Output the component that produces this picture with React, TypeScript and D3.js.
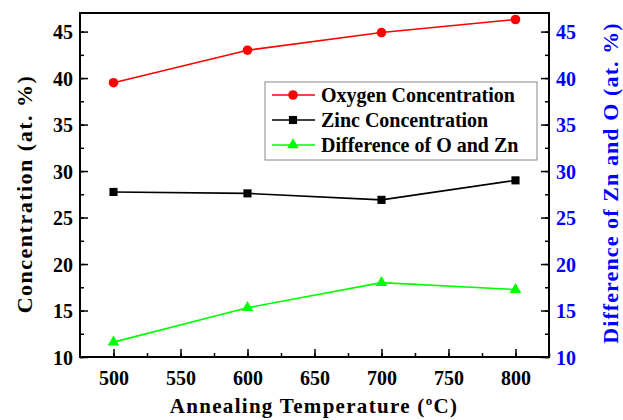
import React, { useEffect, useRef } from 'react';
import * as d3 from 'd3';

const temperatures = [500, 600, 700, 800];
const oxygen = [39.5, 43.0, 44.9, 46.3];
const zinc = [27.75, 27.6, 26.9, 29.0];
const difference = [11.6, 15.3, 18.0, 17.25];

const xTicks = [500, 550, 600, 650, 700, 750, 800];
const yTicks = [10, 15, 20, 25, 30, 35, 40, 45];

const legendLabels = ['Oxygen Concentration', 'Zinc Concentration', 'Difference of O and Zn'];

const W = 623;
const H = 420;
const FONT = "'Liberation Serif', 'DejaVu Serif', serif";

export default function App() {
  const svgRef = useRef<SVGSVGElement>(null);

  useEffect(() => {
    if (!svgRef.current) return;
    const svg = d3.select(svgRef.current);
    svg.selectAll('*').remove();

    const m = { left: 80, right: 549, top: 13, bottom: 357 };
    const x = d3.scaleLinear().domain([475, 825]).range([m.left, m.right]);
    const y = d3.scaleLinear().domain([10, 47]).range([m.bottom, m.top]);
    const yR = d3.scaleLinear().domain([10, 47]).range([m.bottom, m.top]);

    const minorX = d3.range(500, 826, 25);
    const minorY = d3.range(10, 47, 2.5);

    // minor ticks
    const g = svg.append('g');
    g.append('g')
      .attr('transform', `translate(0,${m.bottom})`)
      .call(d3.axisBottom(x).tickValues(minorX).tickSize(-4).tickFormat(() => ''))
      .call(s => s.select('.domain').remove());
    g.append('g')
      .attr('transform', `translate(${m.left},0)`)
      .call(d3.axisLeft(y).tickValues(minorY).tickSize(-4).tickFormat(() => ''))
      .call(s => s.select('.domain').remove());
    g.append('g')
      .attr('transform', `translate(${m.right},0)`)
      .call(d3.axisRight(yR).tickValues(minorY).tickSize(-4).tickFormat(() => ''))
      .call(s => s.select('.domain').remove());
    g.selectAll('line').attr('stroke', '#000').attr('stroke-width', 1.5);

    // major axes
    const xAxis = svg.append('g')
      .attr('transform', `translate(0,${m.bottom})`)
      .call(d3.axisBottom(x).tickValues(xTicks).tickSize(-8).tickPadding(14).tickFormat(d3.format('d')));
    const yAxis = svg.append('g')
      .attr('transform', `translate(${m.left},0)`)
      .call(d3.axisLeft(y).tickValues(yTicks).tickSize(-8).tickPadding(7).tickFormat(d3.format('d')));
    const yAxisR = svg.append('g')
      .attr('transform', `translate(${m.right},0)`)
      .call(d3.axisRight(yR).tickValues(yTicks).tickSize(-8).tickPadding(7).tickFormat(d3.format('d')));

    [xAxis, yAxis, yAxisR].forEach(a => {
      a.attr('font-family', null).attr('font-size', null);
      a.select('.domain').remove();
      a.selectAll('line').attr('stroke', '#000').attr('stroke-width', 1.5);
      a.selectAll('text')
        .style('font-family', FONT)
        .style('font-weight', 'bold')
        .style('font-size', '20px')
        .attr('fill', '#000');
    });
    yAxis.selectAll('text').attr('dy', '0.35em');
    yAxisR.selectAll('text').attr('fill', '#0000ff').attr('dy', '0.35em');

    // frame
    svg.append('rect')
      .attr('x', m.left).attr('y', m.top)
      .attr('width', m.right - m.left).attr('height', m.bottom - m.top)
      .attr('fill', 'none').attr('stroke', '#000').attr('stroke-width', 2);

    const series = [
      { values: oxygen, color: '#ff0000', scale: y, shape: 'circle' },
      { values: zinc, color: '#000000', scale: y, shape: 'square' },
      { values: difference, color: '#00ff00', scale: yR, shape: 'triangle' },
    ];

    const symbolOf = (shape: string) => {
      if (shape === 'circle') return d3.symbol().type(d3.symbolCircle).size(72);
      if (shape === 'square') return d3.symbol().type(d3.symbolSquare).size(66);
      return d3.symbol().type(d3.symbolTriangle).size(58);
    };

    series.forEach(s => {
      const line = d3.line<number>()
        .x((_, i) => x(temperatures[i]))
        .y(d => s.scale(d));
      svg.append('path')
        .datum(s.values)
        .attr('d', line)
        .attr('fill', 'none')
        .attr('stroke', s.color)
        .attr('stroke-width', 1.6);
      svg.selectAll(null)
        .data(s.values)
        .enter()
        .append('path')
        .attr('d', symbolOf(s.shape))
        .attr('transform', (d, i) => `translate(${x(temperatures[i])},${s.scale(d)})`)
        .attr('fill', s.color);
    });

    // legend
    const lg = svg.append('g');
    lg.append('rect')
      .attr('x', 265).attr('y', 82).attr('width', 272).attr('height', 78)
      .attr('fill', '#fff').attr('stroke', '#888').attr('stroke-width', 1);
    legendLabels.forEach((label, i) => {
      const s = series[i];
      const cy = 95 + i * 25;
      lg.append('line')
        .attr('x1', 272).attr('x2', 315).attr('y1', cy).attr('y2', cy)
        .attr('stroke', s.color).attr('stroke-width', 1.6);
      lg.append('path')
        .attr('d', symbolOf(s.shape))
        .attr('transform', `translate(293,${cy})`)
        .attr('fill', s.color);
      lg.append('text')
        .attr('x', 321).attr('y', cy).attr('dy', '0.35em')
        .style('font-family', FONT).style('font-weight', 'bold').style('font-size', '20px')
        .text(label);
    });

    // axis titles
    const xt = svg.append('text')
      .attr('x', 314).attr('y', 413)
      .attr('text-anchor', 'middle')
      .style('font-family', FONT).style('font-weight', 'bold').style('font-size', '21px')
      .style('letter-spacing', '1.3px');
    xt.append('tspan').text('Annealing Temperature (');
    xt.append('tspan').attr('dy', -8).style('font-size', '13px').text('o');
    xt.append('tspan').attr('dy', 8).text('C)');

    svg.append('text')
      .attr('transform', `translate(32,194) rotate(-90)`)
      .attr('text-anchor', 'middle')
      .style('font-family', FONT).style('font-weight', 'bold').style('font-size', '22px')
      .style('letter-spacing', '1.5px')
      .text('Concentration (at. %)');

    svg.append('text')
      .attr('transform', `translate(618,183) rotate(-90)`)
      .attr('text-anchor', 'middle')
      .style('font-family', FONT).style('font-weight', 'bold').style('font-size', '22px')
      .style('letter-spacing', '1.1px')
      .attr('fill', '#0000ff')
      .text('Difference of Zn and O (at. %)');
  }, []);

  return (
    <svg
      ref={svgRef}
      width={W}
      height={H}
      style={{ position: 'absolute', left: 0, top: 0, background: '#fff' }}
    />
  );
}
